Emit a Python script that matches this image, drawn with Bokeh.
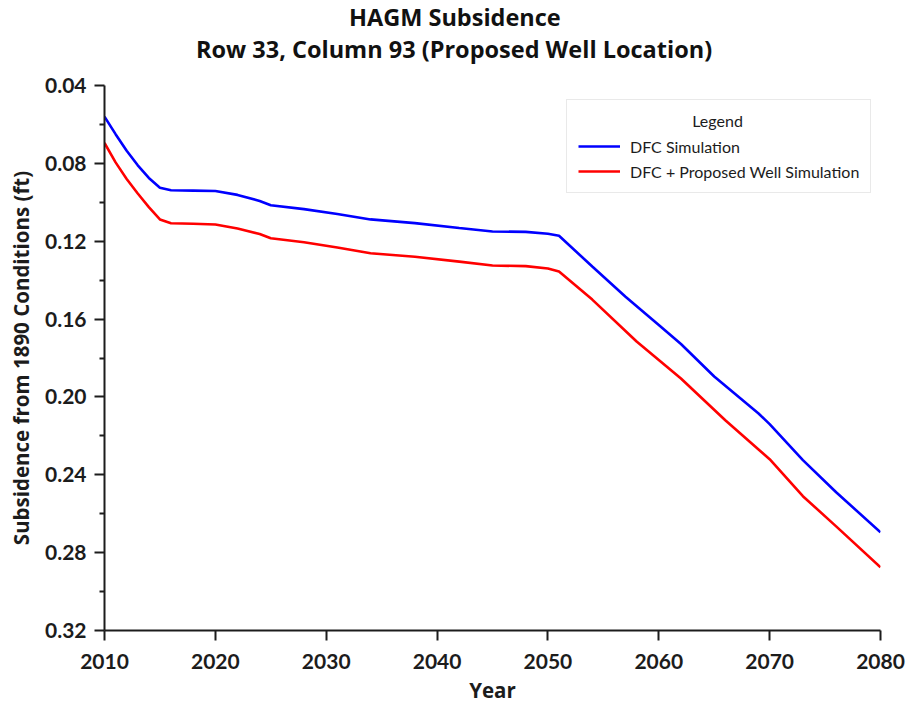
from bokeh.plotting import figure
from bokeh.models import Range1d, FixedTicker, Legend, LegendItem, Label, Title
from bokeh.embed import file_html
from bokeh.resources import INLINE

# Simulated subsidence (ft) relative to 1890 conditions
dfc_years = [2010, 2011, 2012, 2013, 2014, 2015, 2016, 2018, 2020, 2022, 2024, 2025,
             2028, 2031, 2034, 2038, 2042, 2045, 2048, 2050, 2051, 2054, 2057, 2060,
             2062, 2065, 2069, 2070, 2073, 2076, 2080]
dfc_subsidence = [0.0560, 0.0650, 0.0735, 0.0810, 0.0875, 0.0925, 0.0938, 0.0940, 0.0942,
                  0.0962, 0.0993, 0.1015, 0.1035, 0.1060, 0.1088, 0.1107, 0.1132, 0.1150,
                  0.1152, 0.1162, 0.1172, 0.1330, 0.1485, 0.1630, 0.1728, 0.1895, 0.2085,
                  0.2140, 0.2325, 0.2490, 0.2695]

well_years = [2010, 2011, 2012, 2013, 2014, 2015, 2016, 2018, 2020, 2022, 2024, 2025,
              2028, 2031, 2034, 2038, 2042, 2045, 2048, 2050, 2051, 2054, 2058, 2062,
              2066, 2069, 2070, 2073, 2076, 2080]
well_subsidence = [0.0695, 0.0795, 0.0880, 0.0955, 0.1025, 0.1088, 0.1108, 0.1110, 0.1114,
                   0.1135, 0.1163, 0.1185, 0.1205, 0.1232, 0.1262, 0.1280, 0.1305, 0.1325,
                   0.1328, 0.1340, 0.1355, 0.1500, 0.1715, 0.1905, 0.2120, 0.2270, 0.2320,
                   0.2510, 0.2665, 0.2875]

series_names = ["DFC Simulation", "DFC + Proposed Well Simulation"]
series_colors = ["#0000ff", "#ff0000"]

x_ticks = [2010, 2020, 2030, 2040, 2050, 2060, 2070, 2080]
y_ticks = [0.04, 0.08, 0.12, 0.16, 0.20, 0.24, 0.28, 0.32]
y_tick_labels = ["0.04", "0.08", "0.12", "0.16", "0.20", "0.24", "0.28", "0.32"]
y_minor_ticks = [0.06, 0.10, 0.14, 0.18, 0.22, 0.26, 0.30]

title_lines = ["HAGM Subsidence", "Row 33, Column 93 (Proposed Well Location)"]

TICK_FONT = "Lato"
HEAD_FONT = "Open Sans"
INK = "#1c1c1c"

p = figure(width=909, height=709, output_backend="svg", toolbar_location=None,
           x_range=Range1d(2010, 2080), y_range=Range1d(0.32, 0.04),
           min_border_left=104, min_border_right=29,
           min_border_top=84, min_border_bottom=79)
p.xgrid.visible = False
p.ygrid.visible = False
p.outline_line_color = None
p.background_fill_color = "white"
p.border_fill_color = "white"

p.xaxis.ticker = FixedTicker(ticks=x_ticks, minor_ticks=[])
p.yaxis.ticker = FixedTicker(ticks=y_ticks, minor_ticks=y_minor_ticks)
p.yaxis.major_label_overrides = {t: s for t, s in zip(y_ticks, y_tick_labels)}

for ax in (p.xaxis[0], p.yaxis[0]):
    ax.axis_line_color = INK
    ax.axis_line_width = 2
    ax.major_tick_line_color = INK
    ax.major_tick_line_width = 2
    ax.minor_tick_line_color = INK
    ax.minor_tick_line_width = 2
    ax.major_tick_in = 0
    ax.major_tick_out = 10
    ax.minor_tick_in = 0
    ax.minor_tick_out = 5
    ax.major_label_text_font = TICK_FONT
    ax.major_label_text_font_style = "bold"
    ax.major_label_text_font_size = "21px"
    ax.major_label_text_color = INK
    ax.axis_label_text_font = HEAD_FONT
    ax.axis_label_text_font_style = "bold"
    ax.axis_label_text_font_size = "20.5px"
    ax.axis_label_text_color = INK

p.xaxis.axis_label = "Year"
p.yaxis.axis_label = "Subsidence from 1890 Conditions (ft)"
p.xaxis.major_label_standoff = 13
p.yaxis.major_label_standoff = 8
p.xaxis.axis_label_standoff = 4
p.yaxis.axis_label_standoff = 7

r_dfc = p.line(dfc_years, dfc_subsidence, line_color=series_colors[0], line_width=2.6)
r_well = p.line(well_years, well_subsidence, line_color=series_colors[1], line_width=2.6)

legend = Legend(items=[LegendItem(label=series_names[0], renderers=[r_dfc]),
                       LegendItem(label=series_names[1], renderers=[r_well])],
                location=(462, 437), title=" ",
                title_text_font=TICK_FONT, title_text_font_size="15px",
                title_standoff=7,
                label_text_font=TICK_FONT, label_text_font_size="16px",
                label_text_color=INK,
                glyph_width=42, glyph_height=20, label_height=20, label_standoff=10,
                spacing=5, padding=11, margin=0,
                border_line_color="#d4d4d4", border_line_width=1.5,
                background_fill_alpha=0)
p.add_layout(legend)

# "Legend" heading, centred over the legend box
p.add_layout(Label(x=2065.3, y=0.0579, text="Legend",
                   text_font=TICK_FONT, text_font_size="16px", text_color=INK,
                   text_align="center", text_baseline="alphabetic"))

# two-line chart title, stacked above a thin spacer next to the plot
p.add_layout(Title(text=" ", text_font_size="1px", standoff=18), "above")
for txt, off, gap in zip(reversed(title_lines), [91.5, 244.5], [0, -4]):
    p.add_layout(Title(text=txt, align="left", offset=off, standoff=gap,
                       text_font=HEAD_FONT, text_font_style="bold",
                       text_font_size="23.5px", text_color="#111111"), "above")

open("out.html", "w").write(file_html(p, INLINE))
